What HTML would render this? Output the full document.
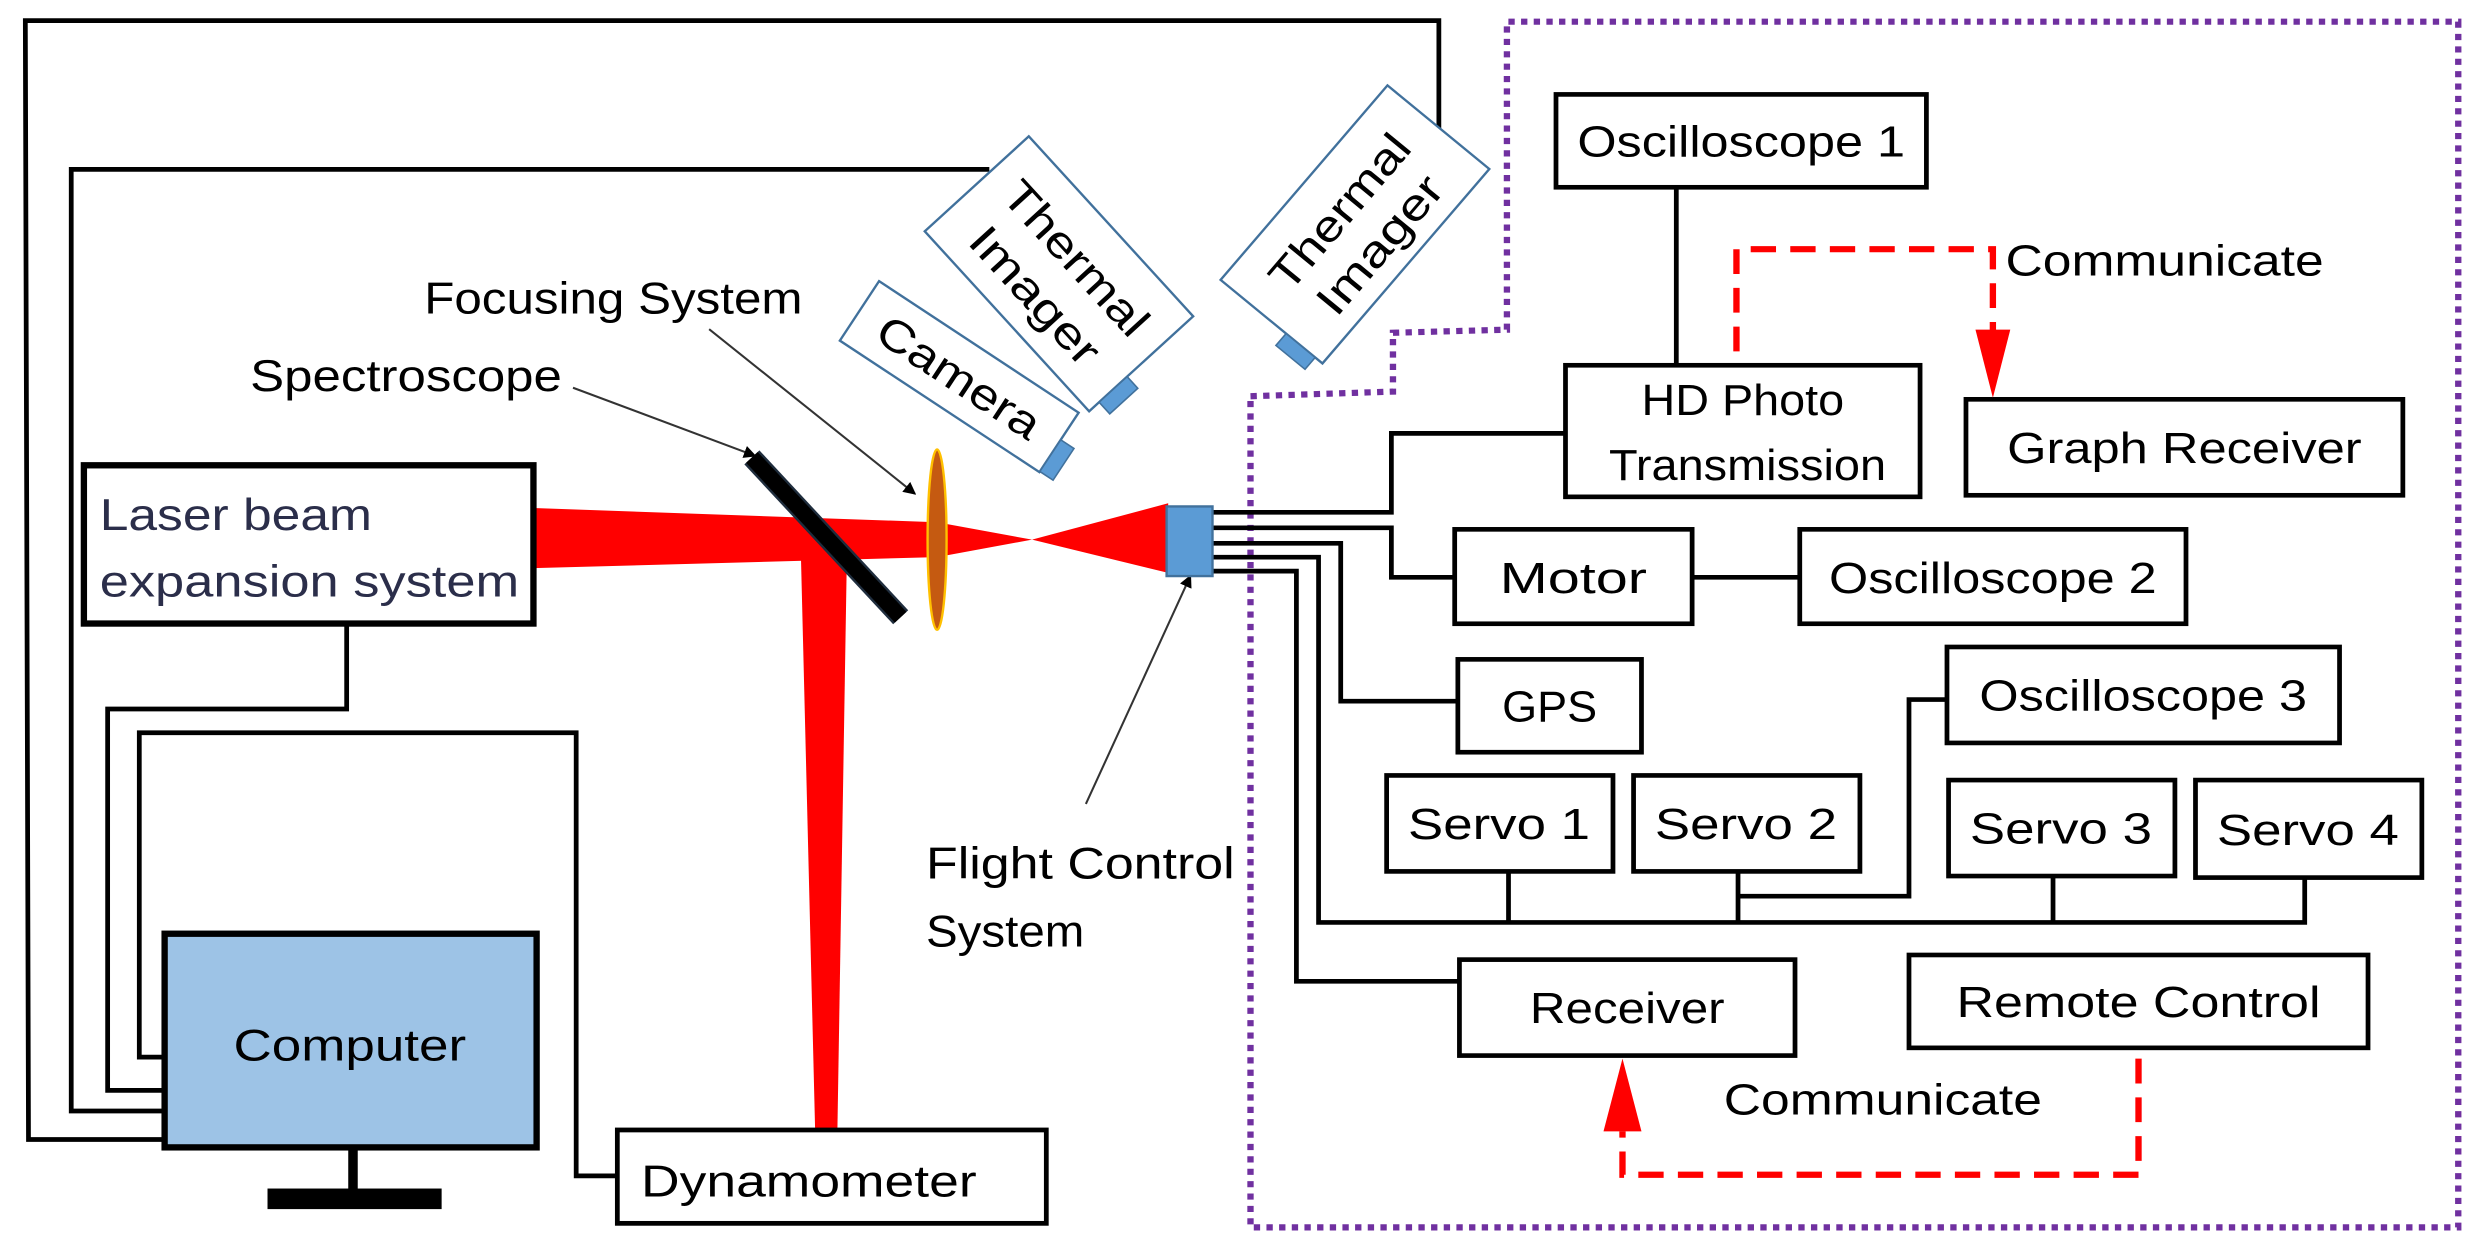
<!DOCTYPE html>
<html><head><style>html,body{margin:0;padding:0;background:#fff}svg{display:block}</style></head>
<body>
<svg width="2482" height="1255" viewBox="0 0 1568 793" preserveAspectRatio="none" xmlns="http://www.w3.org/2000/svg" font-family="Liberation Sans, sans-serif">
<g fill="none" stroke="#000" stroke-width="3">
<polyline points="105,720 18,720 16,13 909,13 909,85"/>
<polyline points="105,702 45,702 45,107 625,107"/>
<polyline points="105,689 68,689 68,448 219,448 219,395"/>
<polyline points="105,668 88,668 88,463 364,463 364,743 390,743"/>
</g>
<g fill="#ff0000">
<polygon points="337,321 592,330 592,352 337,359"/>
<polygon points="592,330 652,341 592,352"/>
<polygon points="652,341 738,318 738,362"/>
<polygon points="506,352 535,352 529,716 515,716"/>
</g>
<line x1="475" y1="289" x2="569" y2="390" stroke="#1f2d3d" stroke-width="13"/>
<line x1="475" y1="289" x2="569" y2="390" stroke="#000" stroke-width="10"/>
<ellipse cx="592" cy="341" rx="6" ry="57" fill="#c55a11" stroke="#ffc000" stroke-width="1.5"/>
<rect x="53" y="294" width="284" height="100" fill="#fff" stroke="#000" stroke-width="4"/>
<text x="63" y="335" font-size="28" fill="#2b2e4a" textLength="172" lengthAdjust="spacingAndGlyphs">Laser beam</text>
<text x="63" y="377" font-size="28" fill="#2b2e4a" textLength="265" lengthAdjust="spacingAndGlyphs">expansion system</text>
<rect x="104" y="590" width="235" height="135" fill="#9dc3e6" stroke="#000" stroke-width="4"/>
<text x="221" y="670" font-size="28" text-anchor="middle" textLength="147" lengthAdjust="spacingAndGlyphs">Computer</text>
<rect x="220" y="725" width="6" height="27" fill="#000"/>
<rect x="169" y="751" width="110" height="13" fill="#000"/>
<rect x="390" y="714" width="271" height="59" fill="#fff" stroke="#000" stroke-width="3"/>
<text x="405" y="756" font-size="28" textLength="212" lengthAdjust="spacingAndGlyphs">Dynamometer</text>
<g transform="translate(606,238) rotate(33.4)">
<rect x="-75.5" y="-22.5" width="151" height="45" fill="#fff" stroke="#41719c" stroke-width="1.5"/>
<rect x="75.5" y="-2" width="10" height="24" fill="#5b9bd5" stroke="#41719c"/>
<text x="0" y="10" font-size="28" text-anchor="middle" textLength="118" lengthAdjust="spacingAndGlyphs">Camera</text>
</g>
<g transform="translate(669,173) rotate(47.6)">
<rect x="-77" y="-44.5" width="154" height="89" fill="#fff" stroke="#41719c" stroke-width="1.5"/>
<rect x="77" y="12" width="10" height="24" fill="#5b9bd5" stroke="#41719c"/>
<text x="0" y="-5" font-size="28" text-anchor="middle" textLength="122" lengthAdjust="spacingAndGlyphs">Thermal</text>
<text x="0" y="30" font-size="28" text-anchor="middle" textLength="108" lengthAdjust="spacingAndGlyphs">Imager</text>
</g>
<defs><marker id="a" markerWidth="8" markerHeight="8" refX="7" refY="4" orient="auto" markerUnits="userSpaceOnUse"><path d="M0,0 L8,4 L0,8 z" fill="#000"/></marker></defs>
<text x="268" y="198" font-size="28" textLength="239" lengthAdjust="spacingAndGlyphs">Focusing System</text>
<text x="158" y="247" font-size="28" textLength="197" lengthAdjust="spacingAndGlyphs">Spectroscope</text>
<line x1="448" y1="208" x2="578" y2="312" stroke="#333" stroke-width="1.3" marker-end="url(#a)"/>
<line x1="362" y1="245" x2="477" y2="288" stroke="#333" stroke-width="1.3" marker-end="url(#a)"/>
<line x1="686" y1="508" x2="752" y2="364" stroke="#333" stroke-width="1.3" marker-end="url(#a)"/>
<text x="585" y="555" font-size="28" textLength="195" lengthAdjust="spacingAndGlyphs">Flight Control</text>
<text x="585" y="598" font-size="28" textLength="100" lengthAdjust="spacingAndGlyphs">System</text>

<g transform="scale(1,0.978)">
<g transform="translate(856,145) rotate(-50)">
<rect x="-82" y="-42" width="164" height="84" fill="#fff" stroke="#41719c" stroke-width="1.5"/>
<rect x="-92" y="12" width="10" height="24" fill="#5b9bd5" stroke="#41719c"/>
<text x="0" y="-3" font-size="28" text-anchor="middle" textLength="122" lengthAdjust="spacingAndGlyphs">Thermal</text>
<text x="0" y="30" font-size="28" text-anchor="middle" textLength="108" lengthAdjust="spacingAndGlyphs">Imager</text>
</g>
<polyline points="790,256 880,253 880,215 952,213 952,14 1553,14 1553,793 790,793 790,256" fill="none" stroke="#7030a0" stroke-width="4" stroke-dasharray="4,4"/>
<g fill="none" stroke="#000" stroke-width="3">
<polyline points="765,331 879,331 879,280 989,280"/>
<polyline points="765,341 879,341 879,373 919,373"/>
<polyline points="765,351 847,351 847,453 921,453"/>
<polyline points="765,360 833,360 833,596 1456,596 1456,567"/>
<polyline points="765,369 819,369 819,634 922,634"/>
<line x1="953" y1="563" x2="953" y2="596"/>
<line x1="1098" y1="563" x2="1098" y2="596"/>
<line x1="1297" y1="566" x2="1297" y2="596"/>
<polyline points="1098,579 1206,579 1206,452 1230,452"/>
<line x1="1069" y1="373" x2="1137" y2="373"/>
<line x1="1059" y1="121" x2="1059" y2="236"/>
</g>
<g fill="#fff" stroke="#000" stroke-width="3">
<rect x="983" y="61" width="234" height="60"/>
<rect x="989" y="236" width="224" height="85"/>
<rect x="1242" y="258" width="276" height="62"/>
<rect x="919" y="342" width="150" height="61"/>
<rect x="1137" y="342" width="244" height="61"/>
<rect x="921" y="426" width="116" height="60"/>
<rect x="1230" y="418" width="248" height="62"/>
<rect x="876" y="501" width="143" height="62"/>
<rect x="1032" y="501" width="143" height="62"/>
<rect x="1231" y="504" width="143" height="62"/>
<rect x="1387" y="504" width="143" height="63"/>
<rect x="922" y="620" width="212" height="62"/>
<rect x="1206" y="617" width="290" height="60"/>
</g>
<g font-size="28" text-anchor="middle" lengthAdjust="spacingAndGlyphs">
<text x="1100" y="101" textLength="207" lengthAdjust="spacingAndGlyphs">Oscilloscope 1</text>
<text x="1101" y="268" textLength="128" lengthAdjust="spacingAndGlyphs">HD Photo</text>
<text x="1104" y="310" textLength="175" lengthAdjust="spacingAndGlyphs">Transmission</text>
<text x="1380" y="299" textLength="224" lengthAdjust="spacingAndGlyphs">Graph Receiver</text>
<text x="994" y="383" textLength="93" lengthAdjust="spacingAndGlyphs">Motor</text>
<text x="1259" y="383" textLength="207" lengthAdjust="spacingAndGlyphs">Oscilloscope 2</text>
<text x="979" y="466" textLength="60" lengthAdjust="spacingAndGlyphs">GPS</text>
<text x="1354" y="459" textLength="207" lengthAdjust="spacingAndGlyphs">Oscilloscope 3</text>
<text x="947" y="542" textLength="115" lengthAdjust="spacingAndGlyphs">Servo 1</text>
<text x="1103" y="542" textLength="115" lengthAdjust="spacingAndGlyphs">Servo 2</text>
<text x="1302" y="545" textLength="115" lengthAdjust="spacingAndGlyphs">Servo 3</text>
<text x="1458" y="546" textLength="115" lengthAdjust="spacingAndGlyphs">Servo 4</text>
<text x="1028" y="661" textLength="123" lengthAdjust="spacingAndGlyphs">Receiver</text>
<text x="1351" y="657" textLength="230" lengthAdjust="spacingAndGlyphs">Remote Control</text>
</g>
<g fill="none" stroke="#ff0000" stroke-width="4" stroke-dasharray="16,9">
<polyline points="1097,227 1097,161 1259,161 1259,215"/>
<polyline points="1351,684 1351,759 1025,759 1025,731"/>
</g>
<polygon points="1248,213 1270,213 1259,257" fill="#ff0000"/>
<polygon points="1013,731 1037,731 1025,684" fill="#ff0000"/>
<text x="1267" y="178" font-size="28" textLength="201" lengthAdjust="spacingAndGlyphs">Communicate</text>
<text x="1089" y="720" font-size="28" textLength="201" lengthAdjust="spacingAndGlyphs">Communicate</text>
</g>
<rect x="737" y="320" width="29" height="44" fill="#5b9bd5" stroke="#41719c" stroke-width="1.5"/>
</svg>
</body></html>
